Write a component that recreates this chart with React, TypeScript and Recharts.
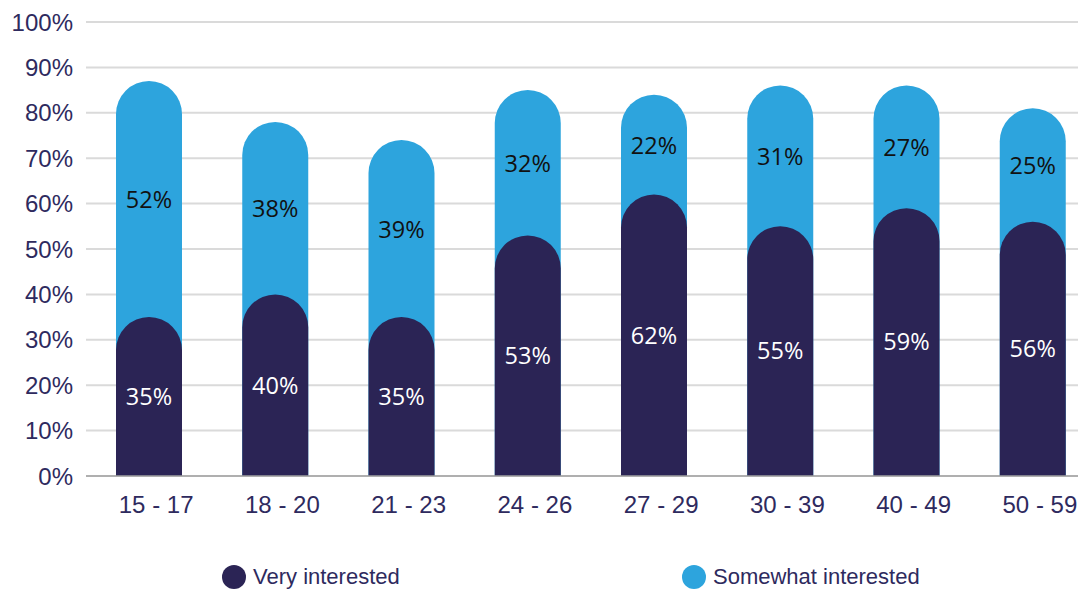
import React from "react";
import { BarChart, Bar, XAxis, YAxis, CartesianGrid, LabelList } from "recharts";

const categories = ["15 - 17", "18 - 20", "21 - 23", "24 - 26", "27 - 29", "30 - 39", "40 - 49", "50 - 59"];
const veryInterested = [35, 40, 35, 53, 62, 55, 59, 56];
const somewhatInterested = [52, 38, 39, 32, 22, 31, 27, 25];
const yTicks = [0, 10, 20, 30, 40, 50, 60, 70, 80, 90, 100];

const DARK = "#2B2455";
const LIGHT = "#2DA4DD";
const TEXT = "#2E2A5E";

const data = categories.map((age, i) => ({
  age,
  very: veryInterested[i],
  somewhat: somewhatInterested[i],
  total: veryInterested[i] + somewhatInterested[i],
}));

const LightLabel = (props: any) => {
  const vb = props.viewBox || {};
  const x = props.x ?? vb.x;
  const y = props.y ?? vb.y;
  const width = props.width ?? vb.width;
  const height = props.height ?? vb.height;
  const d = data[props.index];
  if (!d) return null;
  const segH = (height * d.somewhat) / d.total;
  return (
    <text
      x={x + width / 2}
      y={y + segH / 2}
      textAnchor="middle"
      dominantBaseline="central"
      fill="#111111"
      fontFamily="'Open Sans', sans-serif"
      fontSize={23.5}
    >
      {d.somewhat + "%"}
    </text>
  );
};

const legendItems = [
  { label: "Very interested", color: DARK, cx: 226 },
  { label: "Somewhat interested", color: LIGHT, cx: 686 },
];

export default function App() {
  return (
    <div style={{ position: "relative", width: 1078, height: 581, overflow: "hidden" }}>
      <BarChart
        width={1088}
        height={581}
        data={data}
        margin={{ top: 14, right: 0, bottom: 73, left: 0 }}
      >
        <CartesianGrid vertical={false} stroke="#DADADA" strokeWidth={2} />
        <XAxis xAxisId="back" dataKey="age" hide height={0} />
        <XAxis
          xAxisId="front"
          dataKey="age"
          height={40}
          axisLine={{ stroke: "#A0A0A0", strokeWidth: 1.5 }}
          tickLine={false}
          tickMargin={14}
          tick={{ fill: TEXT, fontSize: 24, fontFamily: "'Liberation Sans', Arial, sans-serif", dx: 7 }}
        />
        <YAxis
          width={78}
          domain={[0, 100]}
          ticks={yTicks}
          interval={0}
          axisLine={false}
          tickLine={false}
          tickMargin={7}
          tickFormatter={(v: number) => `${v}%`}
          tick={{ fill: TEXT, fontSize: 24, fontFamily: "'Liberation Sans', Arial, sans-serif" }}
        />
        <Bar
          xAxisId="back"
          dataKey="total"
          fill={LIGHT}
          barSize={66}
          radius={[33, 33, 0, 0]}
          isAnimationActive={false}
        >
          <LabelList dataKey="somewhat" content={<LightLabel />} />
        </Bar>
        <Bar
          xAxisId="front"
          dataKey="very"
          fill={DARK}
          barSize={66}
          radius={[33, 33, 0, 0]}
          isAnimationActive={false}
        >
          <LabelList
            dataKey="very"
            position="center"
            fill="#FFFFFF"
            fontFamily="'Open Sans', sans-serif"
            fontSize={23.5}
            formatter={(v: any) => `${v}%`}
          />
        </Bar>
      </BarChart>
      {legendItems.map((it) => (
        <div
          key={it.label}
          style={{
            position: "absolute",
            left: it.cx - 12,
            top: 556.5,
            height: 24,
            display: "flex",
            alignItems: "center",
            whiteSpace: "nowrap",
          }}
        >
          <span
            style={{
              display: "inline-block",
              width: 24,
              height: 24,
              borderRadius: 12,
              background: it.color,
              marginRight: 7,
            }}
          />
          <span
            style={{
              fontFamily: "'Liberation Sans', Arial, sans-serif",
              fontSize: 22,
              color: TEXT,
              lineHeight: "24px",
            }}
          >
            {it.label}
          </span>
        </div>
      ))}
    </div>
  );
}
